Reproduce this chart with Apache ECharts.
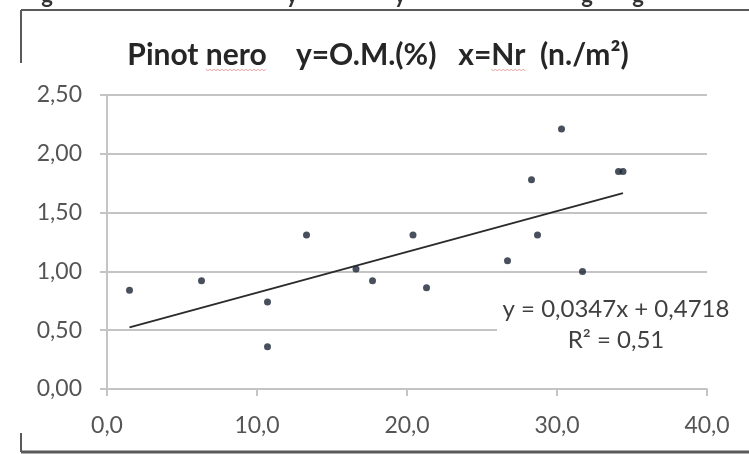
<!DOCTYPE html>
<html>
<head>
<meta charset="utf-8">
<script src="https://cdn.jsdelivr.net/npm/echarts@6/dist/echarts.min.js"></script>
<style>
  html, body { margin: 0; padding: 0; background: #ffffff; }
  #chart { width: 749px; height: 454px; }
</style>
</head>
<body>
<div id="chart"></div>
<script>
// Vine counts (Nr, n./m²) and organic matter (O.M., %) for Pinot nero plots
const nrValues = [1.5, 6.3, 10.7, 10.7, 13.3, 16.6, 17.7, 20.4, 21.3, 26.7, 28.3, 28.7, 30.3, 31.7, 34.1, 34.4];
const omValues = [0.84, 0.92, 0.74, 0.36, 1.31, 1.02, 0.92, 1.31, 0.86, 1.09, 1.78, 1.31, 2.21, 1.00, 1.85, 1.85];

// Linear trend fitted to the points
const trendSlope = 0.0347;
const trendIntercept = 0.4718;
const trendR2 = 0.51;

// Axis ranges and tick steps
const xTicks = [0, 10, 20, 30, 40];
const yTicks = [0, 0.5, 1.0, 1.5, 2.0, 2.5];

const titleText = 'Pinot nero    y=O.M.(%)   x=Nr  (n./m²)';

const FONT = 'Lato';
const points = nrValues.map((x, i) => [x, omValues[i]]);
const xMin = Math.min(...nrValues);
const xMax = Math.max(...nrValues);
const trendPoints = [xMin, xMax].map(x => [x, trendSlope * x + trendIntercept]);

const fmt = (v, d) => v.toFixed(d).replace('.', ',');
const eqLine = 'y = ' + fmt(trendSlope, 4) + 'x + ' + fmt(trendIntercept, 4);
const r2Line = 'R² = ' + fmt(trendR2, 2);

// measure title pieces so the spell-check underlines sit under the right words
const titleFont = 'bold 30px ' + FONT;
const ctx = document.createElement('canvas').getContext('2d');
ctx.font = titleFont;
const titleCx = 378;
const titleW = ctx.measureText(titleText).width;
const titleX0 = titleCx - titleW / 2;
function wordSpan(word) {
  const idx = titleText.indexOf(word);
  const a = titleX0 + ctx.measureText(titleText.slice(0, idx)).width;
  const b = a + ctx.measureText(word).width;
  return [a, b];
}
function squiggle(span, y) {
  const pts = [];
  let up = true;
  for (let x = span[0]; x <= span[1]; x += 2) {
    pts.push([x, up ? y - 1 : y + 1]);
    up = !up;
  }
  return { type: 'polyline', shape: { points: pts }, style: { stroke: '#e8a0a0', lineWidth: 1, fill: null } };
}

const chart = echarts.init(document.getElementById('chart'), null, { renderer: 'canvas' });

const gridColor = '#c4c4c4';
const labelColor = '#555555';
const frameColor = '#5a5a5a';

chart.setOption({
  backgroundColor: '#ffffff',
  animation: false,
  grid: { left: 107, right: 42, top: 95, bottom: 65, containLabel: false },
  xAxis: {
    type: 'value',
    min: xTicks[0],
    max: xTicks[xTicks.length - 1],
    interval: xTicks[1] - xTicks[0],
    axisLine: { show: true, lineStyle: { color: gridColor, width: 2 } },
    axisTick: { show: true, length: 7, inside: false, lineStyle: { color: gridColor, width: 2 } },
    splitLine: { show: false },
    axisLabel: {
      margin: 25,
      color: labelColor,
      fontFamily: FONT,
      fontSize: 23,
      formatter: v => fmt(v, 1)
    }
  },
  yAxis: {
    type: 'value',
    min: yTicks[0],
    max: yTicks[yTicks.length - 1],
    interval: yTicks[1] - yTicks[0],
    axisLine: { show: true, lineStyle: { color: gridColor, width: 2 } },
    axisTick: { show: true, length: 7, inside: false, lineStyle: { color: gridColor, width: 2 } },
    splitLine: { show: true, lineStyle: { color: gridColor, width: 2 } },
    axisLabel: {
      margin: 25,
      color: labelColor,
      fontFamily: FONT,
      fontSize: 23,
      formatter: v => fmt(v, 2)
    }
  },
  series: [
    {
      name: 'O.M.',
      type: 'scatter',
      data: points,
      symbol: 'circle',
      symbolSize: 7,
      itemStyle: { color: '#1c2434' },
      z: 3
    },
    {
      name: 'Trend',
      type: 'line',
      data: trendPoints,
      showSymbol: false,
      symbol: 'none',
      lineStyle: { color: '#2b2b2b', width: 2 },
      z: 2
    }
  ],
  graphic: [
    // surrounding frame
    { type: 'line', shape: { x1: 21, y1: 10, x2: 749, y2: 10 }, style: { stroke: frameColor, lineWidth: 2 } },
    { type: 'line', shape: { x1: 21, y1: 10, x2: 21, y2: 63 }, style: { stroke: frameColor, lineWidth: 2 } },
    { type: 'line', shape: { x1: 21, y1: 433, x2: 21, y2: 452 }, style: { stroke: frameColor, lineWidth: 2 } },
    { type: 'line', shape: { x1: 21, y1: 452, x2: 749, y2: 452 }, style: { stroke: frameColor, lineWidth: 3 } },
    // tails of the caption line above the frame
    ...[[47, 'g'], [292, 'y'], [400, 'y'], [587, 'g'], [638, 'g']].map(([x, ch]) => ({
      type: 'text', x: x, y: -15,
      style: { text: ch, fill: '#333333', font: 'bold 22px ' + FONT, textAlign: 'center', textVerticalAlign: 'top' }
    })),
    // chart title
    {
      type: 'text', x: titleCx, y: 55,
      style: {
        text: titleText,
        fill: '#262626', font: titleFont,
        textAlign: 'center', textVerticalAlign: 'middle'
      }
    },
    squiggle(wordSpan('nero'), 70),
    squiggle(wordSpan('Nr'), 70),
    // trend equation box
    {
      type: 'rect', shape: { x: 497, y: 293, width: 243, height: 62 },
      style: { fill: '#ffffff' }, z: 10
    },
    {
      type: 'text', x: 616, y: 309, z: 11,
      style: {
        text: eqLine, fill: '#404040', font: '24px ' + FONT,
        textAlign: 'center', textVerticalAlign: 'middle'
      }
    },
    {
      type: 'text', x: 616, y: 340, z: 11,
      style: {
        text: r2Line, fill: '#404040', font: '24px ' + FONT,
        textAlign: 'center', textVerticalAlign: 'middle'
      }
    }
  ]
});
</script>
</body>
</html>
